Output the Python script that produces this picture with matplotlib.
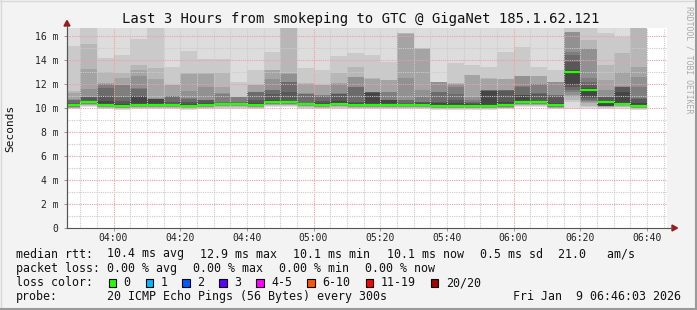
import matplotlib
matplotlib.use("Agg")
import matplotlib.pyplot as plt
from matplotlib.lines import Line2D
from matplotlib.patches import Polygon, Rectangle
import numpy as np

plt.rcParams["font.family"] = ["DejaVu Sans Mono"]

# ---------------- data ----------------
title = "Last 3 Hours from smokeping to GTC @ GigaNet 185.1.62.121"
first_bar_min = 3 * 60 + 45          # 03:45, RRD step 5 min
step_min = 5
view_start_min = 3 * 60 + 46 + 3 / 60   # 03:46:03
view_end_min = 6 * 60 + 46 + 3 / 60     # 06:46:03

median_rtt = [10.27, 10.47, 10.27, 10.17, 10.27, 10.27, 10.27, 10.17, 10.27, 10.33,
              10.33, 10.25, 10.47, 10.47, 10.33, 10.25, 10.33, 10.25, 10.25, 10.25,
              10.25, 10.25, 10.17, 10.17, 10.17, 10.17, 10.27, 10.47, 10.47, 10.27,
              13.00, 11.50, 10.53, 10.36, 10.17]

# sorted ping rtt (ms), lower half p1..p10
ping_low = [
    [9.92, 9.97, 10.00, 10.04, 10.07, 10.10, 10.14, 10.17, 10.20, 10.24],
    [10.05, 10.15, 10.22, 10.28, 10.32, 10.36, 10.39, 10.41, 10.43, 10.44],
    [9.90, 9.98, 10.02, 10.06, 10.10, 10.14, 10.18, 10.20, 10.22, 10.24],
    [9.85, 9.92, 9.97, 10.00, 10.04, 10.07, 10.10, 10.12, 10.13, 10.14],
    [9.90, 9.97, 10.02, 10.06, 10.10, 10.14, 10.17, 10.20, 10.22, 10.22],
    [9.92, 9.98, 10.03, 10.07, 10.11, 10.15, 10.18, 10.21, 10.23, 10.24],
    [9.90, 9.96, 10.01, 10.05, 10.09, 10.13, 10.16, 10.19, 10.21, 10.22],
    [9.85, 9.92, 9.97, 10.01, 10.05, 10.08, 10.10, 10.12, 10.13, 10.14],
    [9.90, 9.97, 10.02, 10.06, 10.10, 10.14, 10.17, 10.20, 10.22, 10.24],
    [9.95, 10.02, 10.08, 10.13, 10.17, 10.21, 10.24, 10.27, 10.29, 10.30],
    [9.95, 10.02, 10.08, 10.13, 10.17, 10.21, 10.24, 10.27, 10.29, 10.30],
    [9.90, 9.96, 10.01, 10.05, 10.09, 10.13, 10.16, 10.19, 10.21, 10.22],
    [10.05, 10.15, 10.22, 10.28, 10.32, 10.36, 10.39, 10.41, 10.43, 10.44],
    [10.05, 10.15, 10.22, 10.28, 10.32, 10.36, 10.39, 10.41, 10.43, 10.44],
    [9.95, 10.02, 10.08, 10.13, 10.17, 10.21, 10.24, 10.27, 10.29, 10.30],
    [9.90, 9.96, 10.01, 10.05, 10.09, 10.13, 10.16, 10.19, 10.21, 10.22],
    [9.95, 10.02, 10.08, 10.13, 10.17, 10.21, 10.24, 10.27, 10.29, 10.30],
    [9.90, 9.96, 10.01, 10.05, 10.09, 10.13, 10.16, 10.19, 10.21, 10.22],
    [9.90, 9.96, 10.01, 10.05, 10.09, 10.13, 10.16, 10.19, 10.21, 10.22],
    [9.90, 9.96, 10.01, 10.05, 10.09, 10.13, 10.16, 10.19, 10.21, 10.22],
    [9.90, 9.96, 10.01, 10.05, 10.09, 10.13, 10.16, 10.19, 10.21, 10.22],
    [9.90, 9.96, 10.01, 10.05, 10.09, 10.13, 10.16, 10.19, 10.21, 10.22],
    [9.85, 9.92, 9.97, 10.00, 10.04, 10.07, 10.10, 10.12, 10.13, 10.14],
    [9.85, 9.92, 9.97, 10.00, 10.04, 10.07, 10.10, 10.12, 10.13, 10.14],
    [9.85, 9.92, 9.97, 10.00, 10.04, 10.07, 10.10, 10.12, 10.13, 10.14],
    [9.85, 9.92, 9.97, 10.00, 10.04, 10.07, 10.10, 10.12, 10.13, 10.14],
    [9.92, 9.97, 10.00, 10.04, 10.07, 10.10, 10.14, 10.17, 10.20, 10.24],
    [10.05, 10.15, 10.22, 10.28, 10.32, 10.36, 10.39, 10.41, 10.43, 10.44],
    [10.05, 10.15, 10.22, 10.28, 10.32, 10.36, 10.39, 10.41, 10.43, 10.44],
    [9.92, 9.97, 10.00, 10.04, 10.07, 10.10, 10.14, 10.17, 10.20, 10.24],
    [9.90, 10.50, 10.67, 10.90, 11.10, 11.36, 11.50, 11.78, 11.90, 12.95],
    [9.90, 10.10, 10.20, 10.39, 10.50, 10.60, 10.67, 10.85, 10.94, 11.45],
    [9.95, 10.02, 10.07, 10.10, 10.13, 10.15, 10.17, 10.18, 10.20, 10.51],
    [9.95, 10.05, 10.12, 10.17, 10.21, 10.24, 10.27, 10.29, 10.31, 10.32],
    [9.85, 9.92, 9.97, 10.00, 10.04, 10.07, 10.10, 10.12, 10.13, 10.14],
]

# sorted ping rtt (ms), upper half p11..p20
ping_high = [
    [10.30, 10.35, 10.40, 10.68, 10.70, 10.72, 11.28, 11.44, 15.17, 17.0],
    [10.50, 10.53, 10.90, 10.92, 10.94, 11.58, 13.22, 15.33, 17.0, 17.2],
    [10.30, 10.55, 11.00, 11.64, 12.02, 12.04, 12.06, 13.03, 14.14, 17.0],
    [10.20, 10.35, 10.60, 10.94, 11.90, 11.92, 12.47, 12.89, 14.42, 17.0],
    [10.30, 10.98, 11.00, 11.62, 11.64, 12.67, 13.17, 13.58, 15.72, 17.0],
    [10.30, 10.76, 10.77, 10.78, 10.79, 10.80, 12.39, 13.36, 17.0, 17.2],
    [10.30, 10.35, 10.50, 10.96, 10.98, 11.00, 11.88, 11.90, 13.45, 17.0],
    [10.20, 10.30, 10.50, 10.78, 10.80, 11.44, 12.87, 12.89, 14.75, 17.0],
    [10.30, 10.40, 10.65, 10.66, 10.67, 11.78, 12.87, 12.89, 14.06, 17.0],
    [10.36, 10.40, 10.45, 10.53, 11.20, 11.22, 11.78, 12.94, 14.06, 17.0],
    [10.36, 10.40, 10.45, 10.53, 10.91, 10.92, 10.93, 10.94, 12.19, 17.0],
    [10.28, 10.40, 10.67, 11.32, 11.34, 11.36, 11.90, 11.92, 13.17, 17.0],
    [10.50, 10.67, 11.20, 11.48, 11.50, 12.39, 13.15, 13.17, 14.64, 17.0],
    [10.50, 10.53, 11.36, 12.17, 12.19, 12.87, 12.89, 17.0, 17.1, 17.2],
    [10.36, 10.40, 10.45, 11.18, 11.20, 11.22, 12.04, 12.06, 13.30, 17.0],
    [10.28, 10.40, 10.60, 11.04, 11.06, 11.08, 11.90, 11.92, 13.17, 17.0],
    [10.36, 10.60, 11.18, 11.20, 11.22, 12.04, 12.06, 12.89, 14.33, 17.0],
    [10.28, 10.40, 10.53, 11.76, 11.78, 12.59, 12.61, 13.44, 14.56, 17.0],
    [10.28, 11.28, 11.30, 11.32, 11.34, 11.36, 12.45, 12.47, 14.42, 17.0],
    [10.28, 10.65, 10.66, 10.67, 11.34, 11.36, 12.31, 12.33, 13.86, 17.0],
    [10.28, 10.35, 10.40, 10.66, 10.67, 12.47, 16.20, 16.21, 16.22, 17.0],
    [10.28, 10.40, 10.50, 10.53, 10.90, 11.50, 14.95, 14.96, 14.97, 17.0],
    [10.20, 10.40, 10.53, 11.34, 11.36, 12.16, 12.17, 12.18, 12.19, 17.0],
    [10.20, 10.40, 10.70, 11.20, 11.78, 12.02, 12.04, 12.06, 13.72, 17.0],
    [10.20, 10.30, 10.40, 10.50, 10.70, 10.94, 12.73, 12.75, 13.58, 17.0],
    [10.20, 11.42, 11.44, 11.46, 11.48, 11.50, 12.45, 12.47, 13.44, 17.0],
    [10.30, 10.53, 11.44, 11.46, 11.48, 11.50, 12.38, 12.40, 14.69, 17.0],
    [10.50, 11.08, 11.10, 11.78, 11.80, 12.66, 12.68, 12.70, 15.11, 17.0],
    [10.50, 10.60, 11.20, 11.22, 11.98, 12.00, 12.68, 12.70, 13.40, 17.0],
    [10.30, 10.45, 11.04, 11.06, 11.08, 12.15, 12.17, 12.19, 13.17, 17.0],
    [13.05, 13.17, 13.86, 14.42, 14.69, 16.32, 16.34, 16.36, 17.0, 17.2],
    [11.55, 11.64, 11.92, 12.19, 12.47, 14.95, 14.97, 15.67, 17.0, 17.2],
    [10.55, 10.58, 10.92, 10.93, 10.94, 11.50, 12.33, 13.58, 16.22, 17.0],
    [10.40, 11.36, 11.77, 11.78, 11.79, 11.80, 13.03, 14.56, 15.94, 17.0],
    [10.20, 10.40, 10.79, 10.80, 11.78, 12.61, 13.44, 17.0, 17.1, 17.2],
]

x_tick_labels = ["04:00", "04:20", "04:40", "05:00", "05:20", "05:40", "06:00", "06:20", "06:40"]
y_tick_values = [0, 2, 4, 6, 8, 10, 12, 14, 16]
y_tick_labels = ["0", "2 m", "4 m", "6 m", "8 m", "10 m", "12 m", "14 m", "16 m"]
y_top = 16.667

loss_labels = ["0", "1", "2", "3", "4-5", "6-10", "11-19", "20/20"]
loss_colors = ["#26ff00", "#00b8ff", "#0059ff", "#5e00ff", "#ff00ff", "#ff5500", "#ff0000", "#a00000"]
smoke_grays = ["#dddddd", "#cacaca", "#b7b7b7", "#a4a4a4", "#919191",
               "#7e7e7e", "#6b6b6b", "#585858", "#454545", "#323232"]

median_stats = [("median rtt:", 16), ("10.4 ms avg", 107), ("12.9 ms max", 200),
                ("10.1 ms min", 293), ("10.1 ms now", 386.5), ("0.5 ms sd", 479.5),
                ("21.0   am/s", 558.5)]
loss_stats = [("packet loss:", 16), ("0.00 % avg", 107), ("0.00 % max", 193),
              ("0.00 % min", 279), ("0.00 % now", 365)]
probe_text = "20 ICMP Echo Pings (56 Bytes) every 300s"
date_text = "Fri Jan  9 06:46:03 2026"

# ---------------- figure ----------------
W, H = 697, 310
fig = plt.figure(figsize=(W / 100, H / 100), dpi=100)
fig.patch.set_facecolor("#f3f3f3")

def fx(x):
    return x / W

def fy(y):
    return 1 - y / H

L, R, T, B = 67, 667, 28, 228
ax = fig.add_axes([fx(L), fy(B), (R - L) / W, (B - T) / H])
ax.set_facecolor("white")
ax.set_xlim(view_start_min, view_end_min)
ax.set_ylim(0, y_top)

n = len(median_rtt)
starts = np.array([first_bar_min + step_min * i for i in range(n)], dtype=float)
edges = np.append(starts, starts[-1] + step_min)
pings = np.hstack([np.array(ping_low), np.array(ping_high)])  # n x 20 sorted

# smoke: band k from ping k to ping 21-k
for k in range(10):
    ax.stairs(pings[:, 19 - k], edges, baseline=pings[:, k], fill=True,
              color=smoke_grays[k], linewidth=0, zorder=1)

# median
ax.hlines(median_rtt, starts, starts + step_min, colors=loss_colors[0],
          linewidth=1.6, zorder=4, capstyle="butt")

# grid
dot = (0, (1, 1))
minor_col = "#cccccc"
major_col = "#f0a0a0"
for m in np.arange(first_bar_min, view_end_min, 5):
    if m <= view_start_min:
        continue
    if m % 60 == 0:
        ax.axvline(m, color=major_col, linewidth=0.8, linestyle=dot, zorder=3)
    else:
        ax.axvline(m, color=minor_col, linewidth=0.8, linestyle=dot, zorder=3)
for v in range(1, 17):
    if v % 2 == 0:
        ax.axhline(v, color=major_col, linewidth=0.8, linestyle=dot, zorder=3)
    else:
        ax.axhline(v, color=minor_col, linewidth=0.8, linestyle=dot, zorder=3)

# ticks
xt = [240 + 20 * i for i in range(len(x_tick_labels))]
ax.set_xticks(xt)
ax.set_xticklabels(x_tick_labels, fontsize=7, color="#222222")
ax.set_yticks(y_tick_values)
ax.set_yticklabels(y_tick_labels, fontsize=7, color="#222222")
ax.tick_params(axis="x", length=2, width=0.6, color="#888888", pad=1.8, direction="out")
ax.tick_params(axis="y", length=2, width=0.6, color="#888888", pad=4.2, direction="out")
for s in ["top", "right"]:
    ax.spines[s].set_visible(False)
for s in ["left", "bottom"]:
    ax.spines[s].set_color("#555555")
    ax.spines[s].set_linewidth(0.8)
    ax.spines[s].set_zorder(5)

# axis arrows
arrow_col = "#9b1c1c"
fig.patches.append(Polygon([[fx(64), fy(26)], [fx(70), fy(26)], [fx(67), fy(20.5)]],
                           closed=True, transform=fig.transFigure, color=arrow_col))
fig.lines.append(Line2D([fx(L), fx(L)], [fy(B), fy(26)], transform=fig.transFigure,
                        color="#555555", linewidth=0.8))
fig.lines.append(Line2D([fx(R), fx(672)], [fy(B), fy(B)], transform=fig.transFigure,
                        color="#555555", linewidth=0.8))
fig.patches.append(Polygon([[fx(672), fy(B - 3)], [fx(672), fy(B + 3)], [fx(677.5), fy(B)]],
                           closed=True, transform=fig.transFigure, color=arrow_col))

# texts
fig.text(fx(361), fy(19), title, ha="center", va="center", fontsize=10, color="#111111")
fig.text(fx(10), fy(128), "Seconds", rotation=90, ha="center", va="center",
         fontsize=8, color="#111111")
fig.text(fx(688.5), fy(6), "RRDTOOL / TOBI OETIKER", rotation=270, ha="center", va="top",
         fontsize=5.9, color="#aaaaaa")

fs = 8.4
for txt, x in median_stats:
    fig.text(fx(x), fy(254), txt, ha="left", va="center", fontsize=fs, color="#111111")
for txt, x in loss_stats:
    fig.text(fx(x), fy(268.5), txt, ha="left", va="center", fontsize=fs, color="#111111")
fig.text(fx(16), fy(282.5), "loss color:", ha="left", va="center", fontsize=fs, color="#111111")
box_x = [108.5, 145.5, 182.3, 219, 256, 307.3, 365.7, 430.7]
for lab, col, bx in zip(loss_labels, loss_colors, box_x):
    fig.patches.append(Rectangle((fx(bx), fy(286.5)), 7.5 / W, 7.5 / H,
                                 transform=fig.transFigure, facecolor=col,
                                 edgecolor="#000000", linewidth=0.8))
    fig.text(fx(bx + 15), fy(282.5), lab, ha="left", va="center", fontsize=fs, color="#111111")
fig.text(fx(16), fy(296.5), "probe:", ha="left", va="center", fontsize=fs, color="#111111")
fig.text(fx(107), fy(296.5), probe_text, ha="left", va="center", fontsize=fs, color="#111111")
fig.text(fx(681), fy(296.5), date_text, ha="right", va="center", fontsize=fs, color="#111111")

# frame
fig.lines.append(Line2D([0, 1], [fy(0.5), fy(0.5)], transform=fig.transFigure, color="#d8d8d8", linewidth=1))
fig.lines.append(Line2D([fx(0.5), fx(0.5)], [0, 1], transform=fig.transFigure, color="#d8d8d8", linewidth=1))
fig.lines.append(Line2D([0, 1], [fy(309), fy(309)], transform=fig.transFigure, color="#9a9a9a", linewidth=1.5))
fig.lines.append(Line2D([fx(696), fx(696)], [0, 1], transform=fig.transFigure, color="#9a9a9a", linewidth=1.5))

fig.savefig("out.png", dpi=100, facecolor=fig.get_facecolor())
